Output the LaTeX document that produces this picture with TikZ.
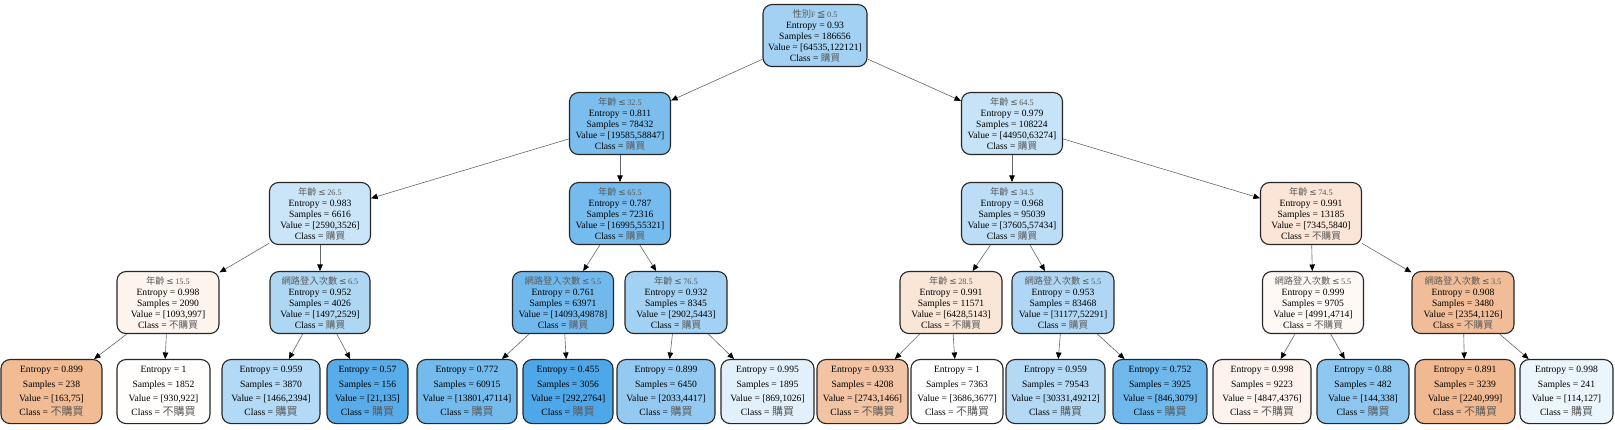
\documentclass[tikz,border=0pt]{standalone}
\usepackage{fontspec}
\setmainfont{Liberation Serif}
\newfontfamily\cjk{Noto Sans CJK TC}
\newfontfamily\symf{DejaVu Sans}
\usetikzlibrary{arrows.meta}
\definecolor{cjkgray}{RGB}{90,90,90}
% internal nodes
\definecolor{nroot}{RGB}{162,209,243}
\definecolor{nL}{RGB}{123,190,238}
\definecolor{nRr}{RGB}{198,227,247}
\definecolor{nP}{RGB}{202,229,248}
\definecolor{nQ}{RGB}{118,187,237}
\definecolor{nR}{RGB}{187,221,246}
\definecolor{nS}{RGB}{250,229,214}
\definecolor{nA}{RGB}{253,244,238}
\definecolor{nB}{RGB}{174,215,244}
\definecolor{nC}{RGB}{113,185,236}
\definecolor{nD}{RGB}{163,209,243}
\definecolor{nE}{RGB}{250,230,215}
\definecolor{nF}{RGB}{175,215,245}
\definecolor{nG}{RGB}{254,248,244}
\definecolor{nH}{RGB}{241,189,152}
% leaves
\definecolor{l1}{RGB}{241,187,148}
\definecolor{l2}{RGB}{255,254,253}
\definecolor{l3}{RGB}{178,217,245}
\definecolor{l4}{RGB}{88,172,233}
\definecolor{l5}{RGB}{115,186,237}
\definecolor{l6}{RGB}{78,167,232}
\definecolor{l7}{RGB}{148,202,241}
\definecolor{l8}{RGB}{225,240,251}
\definecolor{l9}{RGB}{243,196,163}
\definecolor{l10}{RGB}{255,255,255}
\definecolor{l11}{RGB}{179,217,245}
\definecolor{l12}{RGB}{111,184,236}
\definecolor{l13}{RGB}{253,243,236}
\definecolor{l14}{RGB}{141,199,240}
\definecolor{l15}{RGB}{241,185,145}
\definecolor{l16}{RGB}{235,245,252}
\newcommand\ctext[1]{{\color{cjkgray}\cjk #1}}
\newcommand\cond[2]{{\color{cjkgray}{\cjk\fontsize{9.3}{11}\selectfont #1}\,{\symf\fontsize{8.8}{11}\selectfont ≤}\,{\fontsize{8.3}{11}\selectfont #2}}}
\newcommand\lclass[1]{{\fontsize{11}{14.3}\selectfont\ctext{#1}}}
\begin{document}
\begin{tikzpicture}[x=1pt,y=-1pt,
  box/.style={draw=black!85, line width=1.1pt, rounded corners=9pt, inner sep=0pt, align=center, anchor=north},
  inode/.style={box, minimum height=62pt, font=\fontsize{9.6}{11}\selectfont},
  lnode/.style={box, minimum height=64pt, font=\fontsize{9.6}{14.3}\selectfont},
  edge/.style={draw=black!60, line width=0.6pt, -{Triangle[length=6.5pt,width=5.5pt,color=black]}}]
\useasboundingbox (0,0) rectangle (1615,430);
% level 0
\node[inode, fill=nroot, minimum width=104pt] (root) at (815,4)
  {{\color{cjkgray}{\cjk\fontsize{9.3}{11}\selectfont 性別}{\fontsize{8}{11}\selectfont F}\,{\symf\fontsize{10}{11}\selectfont ≦}\,{\fontsize{8.3}{11}\selectfont 0.5}}\\Entropy = 0.93\\Samples = 186656\\Value = [64535,122121]\\Class = \ctext{購買}};
% level 1
\node[inode, fill=nL, minimum width=101pt] (L) at (620,92)
  {\cond{年齡}{32.5}\\Entropy = 0.811\\Samples = 78432\\Value = [19585,58847]\\Class = \ctext{購買}};
\node[inode, fill=nRr, minimum width=101pt] (Rr) at (1012,92)
  {\cond{年齡}{64.5}\\Entropy = 0.979\\Samples = 108224\\Value = [44950,63274]\\Class = \ctext{購買}};
% level 2
\node[inode, fill=nP, minimum width=101pt] (P) at (320,182)
  {\cond{年齡}{26.5}\\Entropy = 0.983\\Samples = 6616\\Value = [2590,3526]\\Class = \ctext{購買}};
\node[inode, fill=nQ, minimum width=101pt] (Q) at (620,182)
  {\cond{年齡}{65.5}\\Entropy = 0.787\\Samples = 72316\\Value = [16995,55321]\\Class = \ctext{購買}};
\node[inode, fill=nR, minimum width=101pt] (R) at (1012,182)
  {\cond{年齡}{34.5}\\Entropy = 0.968\\Samples = 95039\\Value = [37605,57434]\\Class = \ctext{購買}};
\node[inode, fill=nS, minimum width=101pt] (S) at (1311,182)
  {\cond{年齡}{74.5}\\Entropy = 0.991\\Samples = 13185\\Value = [7345,5840]\\Class = \ctext{不購買}};
% level 3
\node[inode, fill=nA, minimum width=102pt] (A) at (168,271)
  {\cond{年齡}{15.5}\\Entropy = 0.998\\Samples = 2090\\Value = [1093,997]\\Class = \ctext{不購買}};
\node[inode, fill=nB, minimum width=100pt] (B) at (320,271)
  {\cond{網路登入次數}{6.5}\\Entropy = 0.952\\Samples = 4026\\Value = [1497,2529]\\Class = \ctext{購買}};
\node[inode, fill=nC, minimum width=101pt] (C) at (563,271)
  {\cond{網路登入次數}{5.5}\\Entropy = 0.761\\Samples = 63971\\Value = [14093,49878]\\Class = \ctext{購買}};
\node[inode, fill=nD, minimum width=102pt] (D) at (676,271)
  {\cond{年齡}{76.5}\\Entropy = 0.932\\Samples = 8345\\Value = [2902,5443]\\Class = \ctext{購買}};
\node[inode, fill=nE, minimum width=102pt] (E) at (951,271)
  {\cond{年齡}{28.5}\\Entropy = 0.991\\Samples = 11571\\Value = [6428,5143]\\Class = \ctext{不購買}};
\node[inode, fill=nF, minimum width=102pt] (F) at (1063,271)
  {\cond{網路登入次數}{5.5}\\Entropy = 0.953\\Samples = 83468\\Value = [31177,52291]\\Class = \ctext{購買}};
\node[inode, fill=nG, minimum width=101pt] (G) at (1313,271)
  {\cond{網路登入次數}{5.5}\\Entropy = 0.999\\Samples = 9705\\Value = [4991,4714]\\Class = \ctext{不購買}};
\node[inode, fill=nH, minimum width=102pt] (H) at (1463,271)
  {\cond{網路登入次數}{3.5}\\Entropy = 0.908\\Samples = 3480\\Value = [2354,1126]\\Class = \ctext{不購買}};
% leaves
\node[lnode, fill=l1, minimum width=101pt] (l1) at (51.5,359) {Entropy = 0.899\\Samples = 238\\Value = [163,75]\\Class = \lclass{不購買}};
\node[lnode, fill=l2, minimum width=93pt] (l2) at (163.5,359) {Entropy = 1\\Samples = 1852\\Value = [930,922]\\Class = \lclass{不購買}};
\node[lnode, fill=l3, minimum width=98pt] (l3) at (271,359) {Entropy = 0.959\\Samples = 3870\\Value = [1466,2394]\\Class = \lclass{購買}};
\node[lnode, fill=l4, minimum width=81pt] (l4) at (367.5,359) {Entropy = 0.57\\Samples = 156\\Value = [21,135]\\Class = \lclass{購買}};
\node[lnode, fill=l5, minimum width=100pt] (l5) at (467,359) {Entropy = 0.772\\Samples = 60915\\Value = [13801,47114]\\Class = \lclass{購買}};
\node[lnode, fill=l6, minimum width=90pt] (l6) at (568,359) {Entropy = 0.455\\Samples = 3056\\Value = [292,2764]\\Class = \lclass{購買}};
\node[lnode, fill=l7, minimum width=98pt] (l7) at (666,359) {Entropy = 0.899\\Samples = 6450\\Value = [2033,4417]\\Class = \lclass{購買}};
\node[lnode, fill=l8, minimum width=93pt] (l8) at (767.5,359) {Entropy = 0.995\\Samples = 1895\\Value = [869,1026]\\Class = \lclass{購買}};
\node[lnode, fill=l9, minimum width=91pt] (l9) at (862.5,359) {Entropy = 0.933\\Samples = 4208\\Value = [2743,1466]\\Class = \lclass{不購買}};
\node[lnode, fill=l10, minimum width=92pt] (l10) at (957,359) {Entropy = 1\\Samples = 7363\\Value = [3686,3677]\\Class = \lclass{不購買}};
\node[lnode, fill=l11, minimum width=99pt] (l11) at (1055.5,359) {Entropy = 0.959\\Samples = 79543\\Value = [30331,49212]\\Class = \lclass{購買}};
\node[lnode, fill=l12, minimum width=94pt] (l12) at (1160,359) {Entropy = 0.752\\Samples = 3925\\Value = [846,3079]\\Class = \lclass{購買}};
\node[lnode, fill=l13, minimum width=98pt] (l13) at (1262,359) {Entropy = 0.998\\Samples = 9223\\Value = [4847,4376]\\Class = \lclass{不購買}};
\node[lnode, fill=l14, minimum width=92pt] (l14) at (1363,359) {Entropy = 0.88\\Samples = 482\\Value = [144,338]\\Class = \lclass{購買}};
\node[lnode, fill=l15, minimum width=100pt] (l15) at (1465,359) {Entropy = 0.891\\Samples = 3239\\Value = [2240,999]\\Class = \lclass{不購買}};
\node[lnode, fill=l16, minimum width=93pt] (l16) at (1566.5,359) {Entropy = 0.998\\Samples = 241\\Value = [114,127]\\Class = \lclass{購買}};
% edges
\draw[edge] (root) -- (L);
\draw[edge] (root) -- (Rr);
\draw[edge] (L) -- (P);
\draw[edge] (L) -- (Q);
\draw[edge] (Rr) -- (R);
\draw[edge] (Rr) -- (S);
\draw[edge] (P) -- (A);
\draw[edge] (P) -- (B);
\draw[edge] (Q) -- (C);
\draw[edge] (Q) -- (D);
\draw[edge] (R) -- (E);
\draw[edge] (R) -- (F);
\draw[edge] (S) -- (G);
\draw[edge] (S) -- (H);
\draw[edge] (A) -- (l1);
\draw[edge] (A) -- (l2);
\draw[edge] (B) -- (l3);
\draw[edge] (B) -- (l4);
\draw[edge] (C) -- (l5);
\draw[edge] (C) -- (l6);
\draw[edge] (D) -- (l7);
\draw[edge] (D) -- (l8);
\draw[edge] (E) -- (l9);
\draw[edge] (E) -- (l10);
\draw[edge] (F) -- (l11);
\draw[edge] (F) -- (l12);
\draw[edge] (G) -- (l13);
\draw[edge] (G) -- (l14);
\draw[edge] (H) -- (l15);
\draw[edge] (H) -- (l16);
\end{tikzpicture}
\end{document}
